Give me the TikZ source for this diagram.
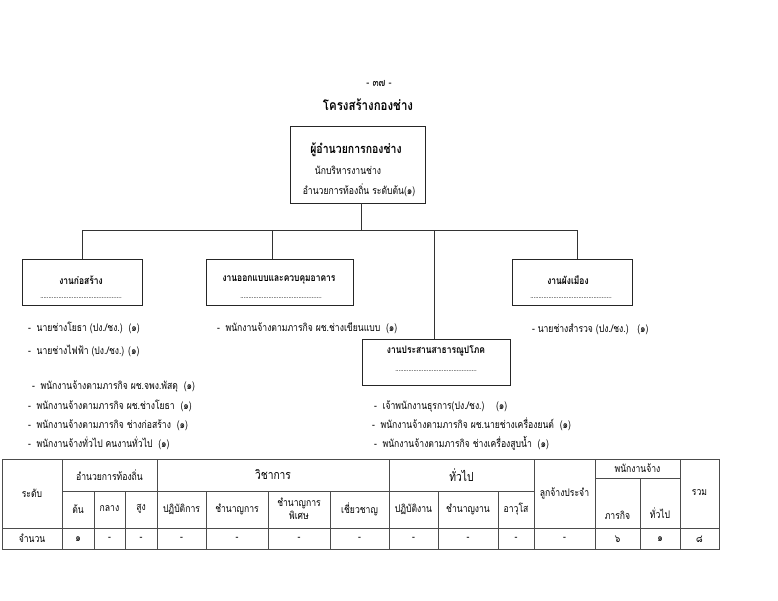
\documentclass[tikz,border=0pt]{standalone}
\usepackage{fontspec}
\setmainfont{Loma}[Script=Thai, FakeStretch=0.82]
\begin{document}
\begin{tikzpicture}[x=1pt,y=-1pt,
  every node/.style={inner sep=0pt, outer sep=0pt, text=black},
  txt/.style={font=\fontsize{10.5}{12}\selectfont},
  item/.style={txt, anchor=west},
  boxtitle/.style={font=\bfseries\fontsize{10.3}{12}\selectfont},
  dots/.style={font=\fontsize{7.3}{8}\selectfont},
  orgbox/.style={draw=black!85, line width=0.8pt, rectangle},
  link/.style={draw=black!80, line width=0.7pt},
  tbl/.style={draw=black!70, line width=0.7pt},
  th/.style={font=\fontsize{10.5}{12}\selectfont, align=center},
  thbig/.style={font=\fontsize{12.5}{14}\selectfont, align=center},
]
\useasboundingbox[fill=white] (0,0) rectangle (778,600);

% header
\node[font=\fontsize{11}{12}\selectfont] (pg) at (379,84) {- ๓๗ -};
\node[font=\bfseries\fontsize{14}{16}\selectfont] (title) at (368,105) {โครงสร้างกองช่าง};

% top box
\node[orgbox, minimum width=135pt, minimum height=77pt] (top) at (357.5,164.5) {};
\node[font=\bfseries\fontsize{12.8}{14}\selectfont] (t1) at (356,150) {ผู้อำนวยการกองช่าง};
\node[txt] (t2) at (348,170) {นักบริหารงานช่าง};
\node[txt] (t3) at (359,190) {อำนวยการท้องถิ่น ระดับต้น(๑)};

% second level boxes
\node[orgbox, minimum width=120pt, minimum height=46pt] (b1) at (82,282) {};
\node[boxtitle] (b1t) at (81,280) {งานก่อสร้าง};
\node[dots] (b1d) at (81,298) {.................................................};

\node[orgbox, minimum width=147pt, minimum height=46pt] (b2) at (279.5,282) {};
\node[boxtitle] (b2t) at (279,280) {งานออกแบบและควบคุมอาคาร};
\node[dots] (b2d) at (281,298) {.................................................};

\node[orgbox, minimum width=120pt, minimum height=46pt] (b4) at (572,282) {};
\node[boxtitle] (b4t) at (568,280) {งานผังเมือง};
\node[dots] (b4d) at (571,298) {.................................................};

\node[orgbox, minimum width=148pt, minimum height=46pt] (b5) at (436,362) {};
\node[boxtitle] (b5t) at (436,351) {งานประสานสาธารณูปโภค};
\node[dots] (b5d) at (436,371) {.................................................};

% connectors
\coordinate (j) at (361,230);
\draw[link] (j |- top.south) -- (j);
\draw[link] (b1.north) -- (b1.north |- j) -- ([xshift=5pt]b4.north |- j) -- ([xshift=5pt]b4.north);
\draw[link] ([xshift=-7.5pt]b2.north) -- ([xshift=-7.5pt]b2.north |- j);
\draw[link] ([xshift=-2pt]b5.north) -- ([xshift=-2pt]b5.north |- j);

% items
\node[item] (i1) at (28,328) {-\ \ นายช่างโยธา (ปง./ชง.)\ \ (๑)};
\node[item] (i2) at (28,351) {-\ \ นายช่างไฟฟ้า (ปง./ชง.) (๑)};
\node[item] (i3) at (217,328) {-\ \ พนักงานจ้างตามภารกิจ ผช.ช่างเขียนแบบ\ \ (๑)};
\node[item] (i4) at (532,329) {- นายช่างสำรวจ (ปง./ชง.)\ \ \ (๑)};

\node[item] (l1) at (32,386) {-\ \ พนักงานจ้างตามภารกิจ ผช.จพง.พัสดุ\ \ (๑)};
\node[item] (l2) at (28,406) {-\ \ พนักงานจ้างตามภารกิจ ผช.ช่างโยธา\ \ (๑)};
\node[item] (l3) at (28,425) {-\ \ พนักงานจ้างตามภารกิจ ช่างก่อสร้าง\ \ (๑)};
\node[item] (l4) at (28,443) {-\ \ พนักงานจ้างทั่วไป คนงานทั่วไป\ \ (๑)};

\node[item] (r1) at (374,406) {-\ \ เจ้าพนักงานธุรการ(ปง./ชง.)\ \ \ \ (๑)};
\node[item] (r2) at (372,424) {-\ \ พนักงานจ้างตามภารกิจ ผช.นายช่างเครื่องยนต์\ \ (๑)};
\node[item] (r3) at (374,443) {-\ \ พนักงานจ้างตามภารกิจ ช่างเครื่องสูบน้ำ\ \ (๑)};

% table
\draw[tbl] (2,459) rectangle (719,549);
\draw[tbl] (62,491) -- (534,491);
\draw[tbl] (595,478) -- (680,478);
\draw[tbl] (2,528) -- (719,528);
\foreach \x in {62,157,389,534,595,680} \draw[tbl] (\x,459) -- (\x,549);
\foreach \x in {94,125,206,268,330,438,498} \draw[tbl] (\x,491) -- (\x,549);
\draw[tbl] (640,478) -- (640,549);

\node[th] (h0) at (32,493) {ระดับ};
\node[th] (h1) at (109.5,475) {อำนวยการท้องถิ่น};
\node[thbig] (h2) at (273,475) {วิชาการ};
\node[thbig] (h3) at (461.5,475) {ทั่วไป};
\node[th] (h4) at (564.5,493) {ลูกจ้างประจำ};
\node[th] (h5) at (637.5,468) {พนักงานจ้าง};
\node[th] (h6) at (699.5,493) {รวม};

\node[th] (s1) at (78,509) {ต้น};
\node[th] (s2) at (109.5,509) {กลาง};
\node[th] (s3) at (141,509) {สูง};
\node[th] (s4) at (181.5,509) {ปฏิบัติการ};
\node[th] (s5) at (237,509) {ชำนาญการ};
\node[th] (s6) at (299,509) {ชำนาญการ\\[1pt]พิเศษ};
\node[th] (s7) at (359.5,509) {เชี่ยวชาญ};
\node[th] (s8) at (413.5,509) {ปฏิบัติงาน};
\node[th] (s9) at (468,509) {ชำนาญงาน};
\node[th] (s10) at (516,509) {อาวุโส};
\node[th] (s11) at (617.5,515) {ภารกิจ};
\node[th] (s12) at (660,513) {ทั่วไป};

\node[th] (d0) at (32,538) {จำนวน};
\node[th] (d1) at (78,539) {๑};
\node[th] (d2) at (109.5,539) {-};
\node[th] (d3) at (141,539) {-};
\node[th] (d4) at (181.5,539) {-};
\node[th] (d5) at (237,539) {-};
\node[th] (d6) at (299,539) {-};
\node[th] (d7) at (359.5,539) {-};
\node[th] (d8) at (413.5,539) {-};
\node[th] (d9) at (468,539) {-};
\node[th] (d10) at (516,539) {-};
\node[th] (d11) at (564.5,539) {-};
\node[th] (d12) at (617.5,539) {๖};
\node[th] (d13) at (660,539) {๑};
\node[th] (d14) at (699.5,539) {๘};
\end{tikzpicture}
\end{document}
